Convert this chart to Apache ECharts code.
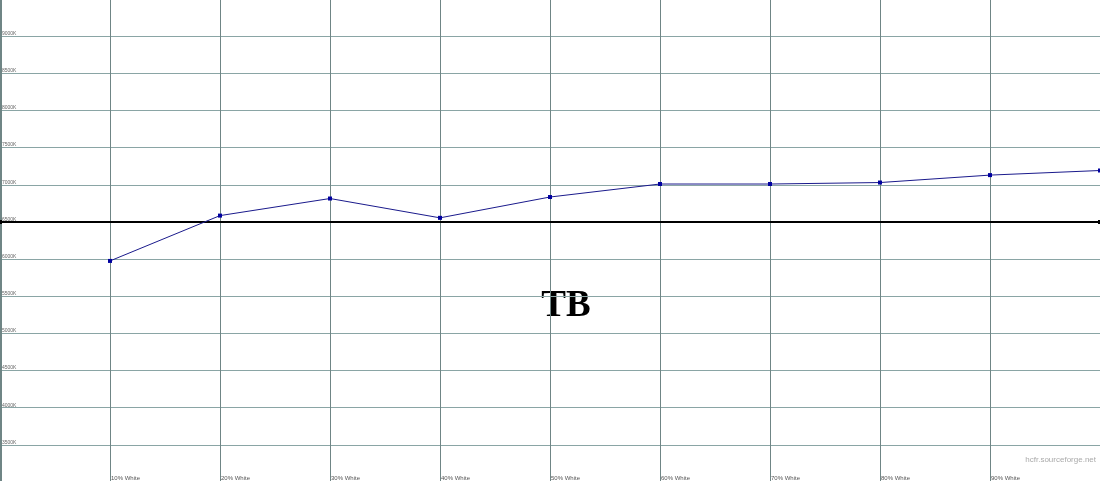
<!DOCTYPE html>
<html>
<head>
<meta charset="utf-8">
<script src="https://cdn.jsdelivr.net/npm/echarts@6/dist/echarts.min.js"></script>
<style>
  html, body { margin: 0; padding: 0; background: #fff; }
  #chart { width: 1100px; height: 481px; }
</style>
</head>
<body>
<div id="chart"></div>
<script>
  // measured colour temperature per grey level
  const levels = [10, 20, 30, 40, 50, 60, 70, 80, 90, 100]
  const tempK = [5975, 6585, 6815, 6555, 6835, 7010, 7010, 7030, 7130, 7192]
  // D65 reference
  const refLevels = [0, 100]
  const refK = [6500, 6500]

  const chart = echarts.init(document.getElementById('chart'))
  const option = {
    animation: false,
    backgroundColor: '#fff',
    graphic: [
      {
        type: 'text',
        x: 566,
        y: 306,
        style: {
          text: 'TB',
          font: 'bold 37px "Liberation Serif"',
          fill: '#000',
          align: 'center',
          verticalAlign: 'middle'
        }
      },
      {
        type: 'text',
        x: 1096,
        y: 460,
        style: {
          text: 'hcfr.sourceforge.net',
          font: '8px "Liberation Sans"',
          fill: '#aaa',
          align: 'right',
          verticalAlign: 'middle'
        }
      }
    ],
    grid: { left: 0, right: 0, top: -1, bottom: -1, outerBoundsMode: 'none', containLabel: false },
    xAxis: {
      type: 'value',
      min: 0,
      max: 100,
      interval: 10,
      axisLine: { show: false },
      axisTick: { show: false },
      axisLabel: {
        inside: true,
        margin: 1,
        align: 'left',
        padding: [0, 0, 0, 1],
        fontFamily: 'Liberation Sans',
        fontSize: 6,
        color: '#555',
        formatter: function (v) {
          return (v === 0 || v === 100) ? '' : v + '% White'
        }
      },
      splitLine: { lineStyle: { color: '#6f8585', width: 1 } }
    },
    yAxis: {
      type: 'value',
      min: 3000,
      max: 9500,
      interval: 500,
      offset: -1,
      axisLine: { show: true, lineStyle: { color: '#6f8585' } },
      axisTick: { show: false },
      axisLabel: {
        inside: true,
        margin: 1,
        verticalAlign: 'bottom',
        fontFamily: 'Liberation Sans',
        fontSize: 5,
        color: '#666',
        formatter: function (v) {
          return (v === 3000 || v === 9500) ? '' : v + 'K'
        }
      },
      splitLine: { lineStyle: { color: '#8aa5a5', width: 1 } }
    },
    series: [
      {
        name: 'Reference',
        type: 'line',
        data: refLevels.map((x, i) => [x, refK[i]]),
        symbol: 'rect',
        symbolSize: 4,
        lineStyle: { color: '#000', width: 2 },
        itemStyle: { color: '#000' },
        z: 3
      },
      {
        name: 'Measured',
        type: 'line',
        data: levels.map((x, i) => [x, tempK[i]]),
        symbol: 'rect',
        symbolSize: 4,
        lineStyle: { color: '#1a1a8c', width: 1 },
        itemStyle: { color: '#0000a0' },
        z: 4
      }
    ]
  }
  chart.setOption(option)
</script>
</body>
</html>
